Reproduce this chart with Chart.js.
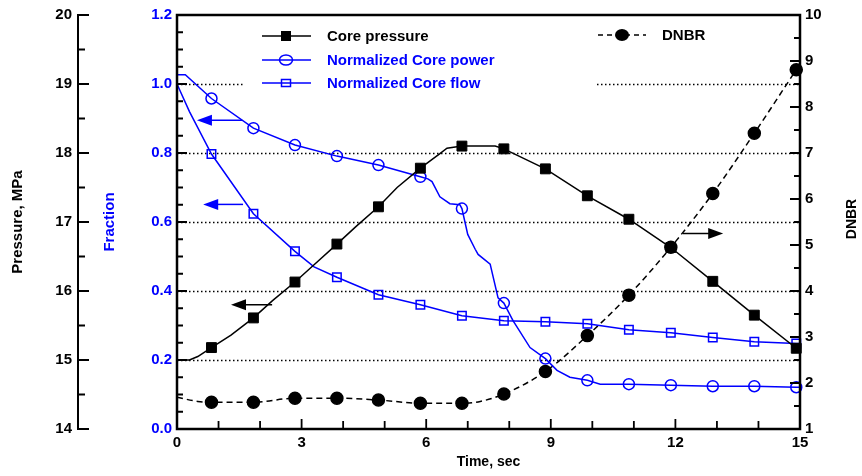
<!DOCTYPE html>
<html>
<head>
<meta charset="utf-8">
<script src="https://cdn.jsdelivr.net/npm/chart.js@4.4.1/dist/chart.umd.min.js"></script>
<style>
  body { margin: 0; background: #fff; }
  #wrap { width: 862px; height: 476px; }
</style>
</head>
<body>
<div id="wrap"><canvas id="chart" width="862" height="476"></canvas></div>
<script>
const BLUE = 'rgb(0,0,255)';
const FONT = "'Liberation Sans', Arial, sans-serif";

// times where the symbols sit on each curve
const markerTime = [0.83, 1.84, 2.84, 3.85, 4.85, 5.86, 6.86, 7.87, 8.87, 9.88, 10.88, 11.89, 12.9, 13.9, 14.91];

const pressureTime = [0, 0.3, 0.5, 0.83, 1.3, 1.84, 2.3, 2.84, 3.3, 3.85, 4.3, 4.85, 5.3, 5.86, 6.33, 6.5, 6.86, 7.66, 7.87, 8.87, 9.88, 10.88, 11.89, 12.9, 13.9, 14.91, 15];
const pressureValue = [15.0, 15.0, 15.05, 15.18, 15.36, 15.61, 15.86, 16.13, 16.38, 16.68, 16.93, 17.22, 17.5, 17.78, 17.99, 18.07, 18.10, 18.10, 18.06, 17.77, 17.38, 17.04, 16.63, 16.14, 15.65, 15.17, 15.12];

const powerTime = [0, 0.2, 0.83, 1.84, 2.84, 3.85, 4.85, 5.86, 6.04, 6.14, 6.33, 6.57, 6.81, 6.86, 7.0, 7.18, 7.25, 7.54, 7.73, 7.87, 8.09, 8.5, 8.87, 9.15, 9.46, 9.88, 10.19, 10.88, 11.89, 12.9, 13.9, 14.91, 15];
const powerValue = [1.027, 1.027, 0.958, 0.872, 0.823, 0.791, 0.765, 0.731, 0.725, 0.717, 0.673, 0.653, 0.650, 0.639, 0.564, 0.521, 0.506, 0.478, 0.38, 0.365, 0.314, 0.236, 0.204, 0.17, 0.15, 0.141, 0.13, 0.130, 0.127, 0.124, 0.124, 0.121, 0.121];

const flowTime = [0, 0.3, 0.83, 1.84, 2.84, 3.3, 3.85, 4.85, 5.86, 6.86, 7.87, 8.87, 9.88, 10.88, 11.89, 12.9, 13.9, 14.91, 15];
const flowValue = [1.0, 0.92, 0.797, 0.624, 0.515, 0.47, 0.44, 0.389, 0.360, 0.328, 0.314, 0.311, 0.305, 0.288, 0.279, 0.265, 0.253, 0.248, 0.248];

const dnbrTime = [0, 0.5, 0.83, 1.84, 2.84, 3.85, 4.85, 5.86, 6.86, 7.3, 7.87, 8.87, 9.88, 10.88, 11.89, 12.9, 13.9, 14.91];
const dnbrValue = [1.69, 1.6, 1.58, 1.58, 1.67, 1.67, 1.63, 1.56, 1.56, 1.6, 1.76, 2.25, 3.03, 3.91, 4.95, 6.12, 7.43, 8.81];

// dotted reference lines on the fraction axis
const gridFraction = [0.2, 0.4, 0.6, 0.8, 1.0];

// arrows telling which axis a curve belongs to
const arrows = [
  { axis: 'fraction', from: 1.57, to: 0.48, at: 0.895, color: BLUE },
  { axis: 'fraction', from: 1.59, to: 0.63, at: 0.651, color: BLUE },
  { axis: 'pressure', from: 2.29, to: 1.30, at: 15.80, color: '#000' },
  { axis: 'dnbr', from: 12.18, to: 13.15, at: 5.25, color: '#000' }
];

const pts = (t, v) => t.map((x, i) => ({ x: x, y: v[i] }));
const markR = r => ctx => (ctx.raw && markerTime.includes(ctx.raw.x)) ? r : 0;

const tickFont = { family: FONT, size: 15, weight: 'bold' };

const decor = {
  id: 'decor',
  beforeDatasetsDraw(chart) {
    const { ctx, chartArea: a, scales } = chart;
    ctx.save();
    ctx.strokeStyle = '#000';
    ctx.lineWidth = 1.5;
    ctx.setLineDash([1.5, 2.5]);
    gridFraction.forEach(v => {
      const y = Math.round(scales.fraction.getPixelForValue(v)) + 0.5;
      ctx.beginPath();
      ctx.moveTo(a.left, y);
      ctx.lineTo(a.right, y);
      ctx.stroke();
    });
    ctx.setLineDash([]);
    // legend backdrop
    ctx.fillStyle = '#fff';
    ctx.fillRect(243, 20, 354, 76);
    ctx.restore();
  },
  afterDatasetsDraw(chart) {
    const { ctx, chartArea: a, scales } = chart;
    const x = scales.x;
    ctx.save();

    // arrows
    arrows.forEach(ar => {
      const y = scales[ar.axis].getPixelForValue(ar.at);
      const x0 = x.getPixelForValue(ar.from);
      const x1 = x.getPixelForValue(ar.to);
      const dir = Math.sign(x1 - x0);
      ctx.strokeStyle = ar.color;
      ctx.fillStyle = ar.color;
      ctx.lineWidth = 1.5;
      ctx.beginPath();
      ctx.moveTo(x0, y);
      ctx.lineTo(x1 - dir * 10, y);
      ctx.stroke();
      ctx.beginPath();
      ctx.moveTo(x1, y);
      ctx.lineTo(x1 - dir * 15, y - 5.5);
      ctx.lineTo(x1 - dir * 15, y + 5.5);
      ctx.closePath();
      ctx.fill();
    });

    // frame
    ctx.strokeStyle = '#000';
    ctx.lineWidth = 2.5;
    ctx.strokeRect(a.left, a.top, a.right - a.left, a.bottom - a.top);

    // pressure axis line with inward ticks
    const p = scales.pressure;
    const px = p.right;
    ctx.lineWidth = 2;
    ctx.beginPath();
    ctx.moveTo(px, a.top - 1);
    ctx.lineTo(px, a.bottom + 1);
    for (let v = 14; v <= 20.001; v += 0.5) {
      const y = p.getPixelForValue(v);
      const len = Math.abs(v - Math.round(v)) < 1e-6 ? 11 : 7;
      ctx.moveTo(px, y);
      ctx.lineTo(px + len, y);
    }
    ctx.stroke();

    ctx.lineWidth = 1.8;
    ctx.beginPath();
    // fraction ticks
    const f = scales.fraction;
    for (let i = 0; i <= 24; i++) {
      const y = f.getPixelForValue(i * 0.05);
      const len = i % 4 === 0 ? 10 : 6;
      ctx.moveTo(a.left, y);
      ctx.lineTo(a.left + len, y);
    }
    // dnbr ticks
    const d = scales.dnbr;
    for (let i = 0; i <= 18; i++) {
      const y = d.getPixelForValue(1 + i * 0.5);
      const len = i % 2 === 0 ? 10 : 6;
      ctx.moveTo(a.right, y);
      ctx.lineTo(a.right - len, y);
    }
    // time ticks
    for (let t = 0; t <= 15; t++) {
      const xx = x.getPixelForValue(t);
      const len = t % 3 === 0 ? 10 : 8;
      ctx.moveTo(xx, a.bottom);
      ctx.lineTo(xx, a.bottom - len);
    }
    ctx.stroke();

    // DNBR axis title, reading upward
    ctx.fillStyle = '#000';
    ctx.font = 'bold 14px ' + FONT;
    ctx.textAlign = 'center';
    ctx.textBaseline = 'middle';
    ctx.translate(852, (a.top + a.bottom) / 2 - 3);
    ctx.rotate(-Math.PI / 2);
    ctx.fillText('DNBR', 0, 0);
    ctx.restore();

    // legend
    ctx.save();
    ctx.font = 'bold 15px ' + FONT;
    ctx.textBaseline = 'middle';
    ctx.textAlign = 'left';
    const rows = [
      { y: 36, text: 'Core pressure', color: '#000', sym: 'fsquare', x0: 262, x1: 311, xs: 286, xt: 327, dash: [] },
      { y: 60, text: 'Normalized Core power', color: BLUE, sym: 'ocircle', x0: 262, x1: 311, xs: 286, xt: 327, dash: [] },
      { y: 83, text: 'Normalized Core flow', color: BLUE, sym: 'osquare', x0: 262, x1: 311, xs: 286, xt: 327, dash: [] },
      { y: 35, text: 'DNBR', color: '#000', sym: 'fcircle', x0: 598, x1: 646, xs: 622, xt: 662, dash: [5, 4] }
    ];
    rows.forEach(r => {
      ctx.strokeStyle = r.color;
      ctx.fillStyle = r.color;
      ctx.lineWidth = 1.5;
      ctx.setLineDash(r.dash);
      ctx.beginPath();
      ctx.moveTo(r.x0, r.y);
      ctx.lineTo(r.x1, r.y);
      ctx.stroke();
      ctx.setLineDash([]);
      ctx.beginPath();
      if (r.sym === 'fsquare') {
        ctx.fillRect(r.xs - 5, r.y - 5, 10, 10);
      } else if (r.sym === 'osquare') {
        ctx.strokeRect(r.xs - 4.5, r.y - 3.5, 9, 7);
      } else if (r.sym === 'ocircle') {
        ctx.ellipse(r.xs, r.y, 6.5, 5, 0, 0, Math.PI * 2);
        ctx.stroke();
      } else {
        ctx.ellipse(r.xs, r.y, 7, 6, 0, 0, Math.PI * 2);
        ctx.fill();
      }
      ctx.fillText(r.text, r.xt, r.y + 1);
    });
    ctx.restore();
  }
};

new Chart(document.getElementById('chart').getContext('2d'), {
  type: 'line',
  data: {
    datasets: [
      {
        label: 'Core pressure',
        data: pts(pressureTime, pressureValue),
        yAxisID: 'pressure',
        borderColor: '#000',
        borderWidth: 1.5,
        pointStyle: 'rect',
        pointRadius: markR(7),
        pointBackgroundColor: '#000',
        pointBorderColor: '#000',
        pointBorderWidth: 1,
        clip: false
      },
      {
        label: 'Normalized Core power',
        data: pts(powerTime, powerValue),
        yAxisID: 'fraction',
        borderColor: BLUE,
        borderWidth: 1.5,
        pointStyle: 'circle',
        pointRadius: markR(5.5),
        pointBackgroundColor: 'rgba(255,255,255,0)',
        pointBorderColor: BLUE,
        pointBorderWidth: 1.5,
        clip: false
      },
      {
        label: 'Normalized Core flow',
        data: pts(flowTime, flowValue),
        yAxisID: 'fraction',
        borderColor: BLUE,
        borderWidth: 1.5,
        pointStyle: 'rect',
        pointRadius: markR(6),
        pointBackgroundColor: 'rgba(255,255,255,0)',
        pointBorderColor: BLUE,
        pointBorderWidth: 1.5,
        clip: false
      },
      {
        label: 'DNBR',
        data: pts(dnbrTime, dnbrValue),
        yAxisID: 'dnbr',
        borderColor: '#000',
        borderWidth: 1.5,
        borderDash: [6, 4],
        cubicInterpolationMode: 'monotone',
        pointStyle: 'circle',
        pointRadius: markR(6),
        pointBackgroundColor: '#000',
        pointBorderColor: '#000',
        clip: false
      }
    ]
  },
  options: {
    responsive: false,
    animation: false,
    events: [],
    layout: { padding: { top: 12, left: 0, right: 0, bottom: 0 } },
    plugins: { legend: { display: false }, tooltip: { enabled: false } },
    scales: {
      x: {
        type: 'linear', position: 'bottom', min: 0, max: 15,
        ticks: { stepSize: 3, autoSkip: false, maxRotation: 0, color: '#000', font: tickFont, padding: 5 },
        grid: { display: false, drawTicks: false },
        border: { display: false },
        title: { display: true, text: 'Time, sec', color: '#000', font: { family: FONT, size: 14, weight: 'bold' }, padding: { top: 0, bottom: 5 } },
        afterFit: s => { s.height = 47; }
      },
      pressure: {
        type: 'linear', position: 'left', weight: 2, min: 14, max: 20,
        ticks: { stepSize: 1, color: '#000', font: tickFont, padding: 6 },
        grid: { display: false, drawTicks: false },
        border: { display: false },
        title: { display: true, text: 'Pressure, MPa', color: '#000', font: { family: FONT, size: 15, weight: 'bold' }, padding: { top: 9, bottom: 0 } },
        afterFit: s => { s.width = 78; }
      },
      fraction: {
        type: 'linear', position: 'left', weight: 1, min: 0, max: 1.2,
        ticks: { stepSize: 0.2, color: BLUE, font: tickFont, padding: 5, callback: v => v.toFixed(1) },
        grid: { display: false, drawTicks: false },
        border: { display: false },
        title: { display: true, text: 'Fraction', color: BLUE, font: { family: FONT, size: 15, weight: 'bold' }, padding: { top: 23, bottom: 0 } },
        afterFit: s => { s.width = 99; }
      },
      dnbr: {
        type: 'linear', position: 'right', min: 1, max: 10,
        ticks: { stepSize: 1, color: '#000', font: tickFont, padding: 5 },
        grid: { display: false, drawTicks: false },
        border: { display: false },
        afterFit: s => { s.width = 62; }
      }
    }
  },
  plugins: [decor]
});
</script>
</body>
</html>
